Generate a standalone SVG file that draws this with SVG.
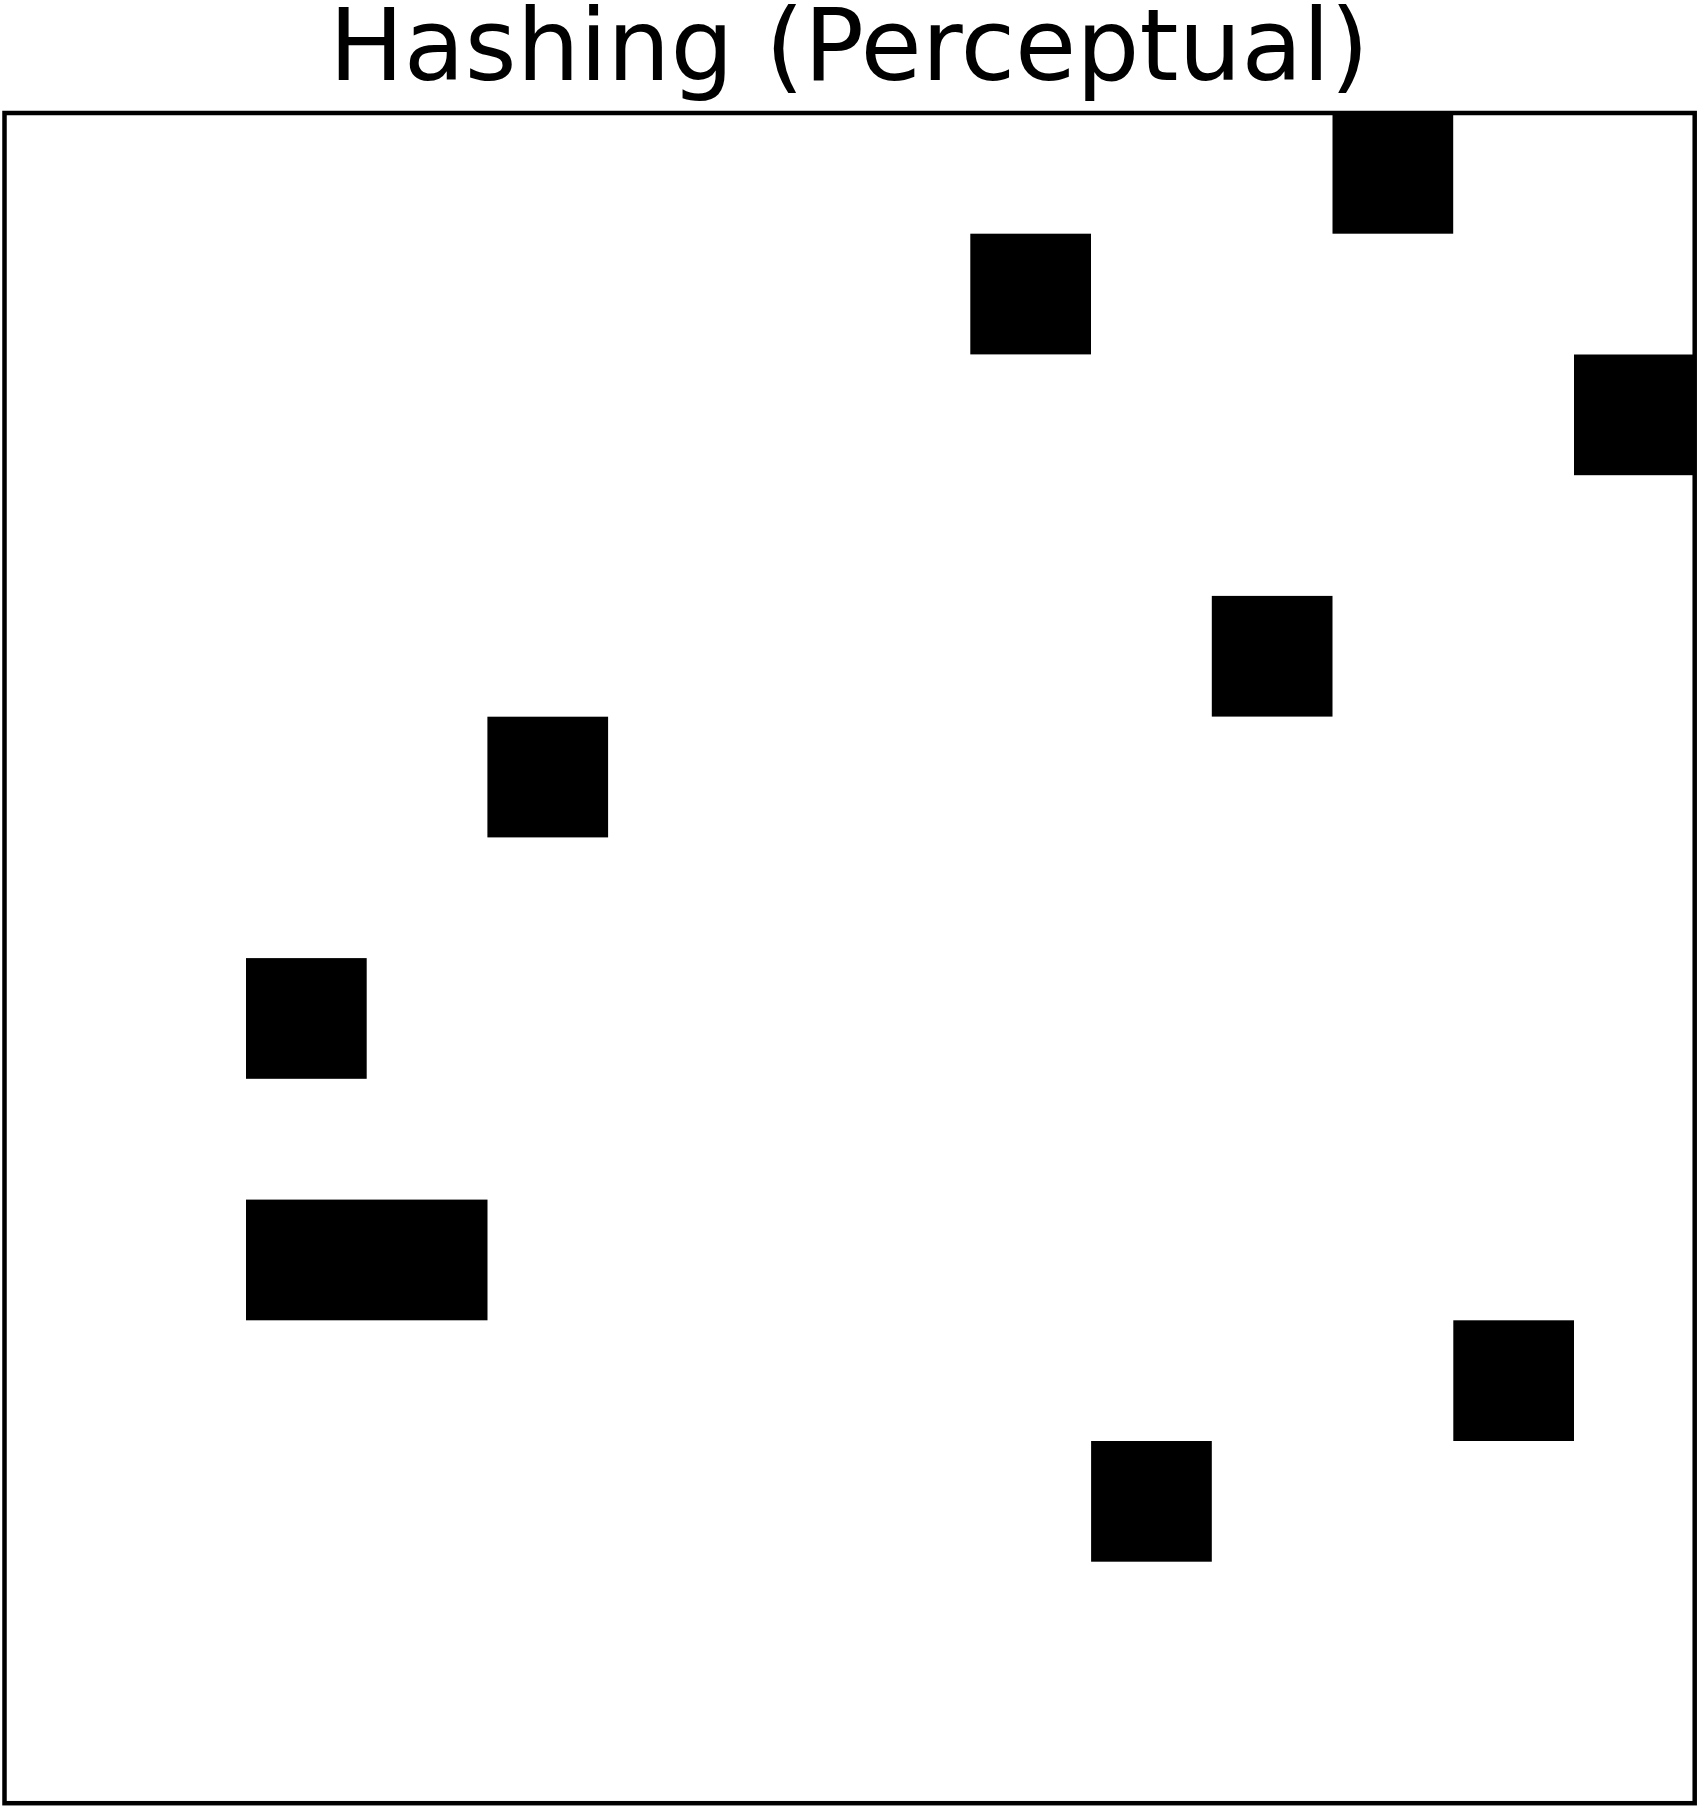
<svg xmlns="http://www.w3.org/2000/svg" width="1698" height="1808" viewBox="0 0 1698 1808">
<style>
.title{font-family:"DejaVu Sans",sans-serif;font-size:99.5px;fill:#000;text-anchor:middle}
.cell{fill:#000}
.frame{fill:none;stroke:#000;stroke-width:4.5}
</style>
<rect width="1698" height="1808" fill="#fff"/>
<text class="title" x="849" y="80">Hashing (Perceptual)</text>
<g id="cells">
<rect id="c11r0" class="cell" x="1332.5" y="113" width="120.7" height="120.7"/>
<rect id="c8r1" class="cell" x="970.3" y="233.7" width="120.7" height="120.7"/>
<rect id="c13r2" class="cell" x="1574" y="354.5" width="120.7" height="120.7"/>
<rect id="c10r4" class="cell" x="1211.8" y="595.9" width="120.7" height="120.7"/>
<rect id="c4r5" class="cell" x="487.4" y="716.7" width="120.7" height="120.7"/>
<rect id="c2r7" class="cell" x="246" y="958.1" width="120.7" height="120.7"/>
<rect id="c2r9" class="cell" x="246" y="1199.6" width="241.5" height="120.7"/>
<rect id="c12r10" class="cell" x="1453.3" y="1320.3" width="120.7" height="120.7"/>
<rect id="c9r11" class="cell" x="1091.1" y="1441" width="120.7" height="120.7"/>
</g>
<rect id="frame" class="frame" x="4.5" y="113" width="1690.2" height="1690.2"/>
</svg>
